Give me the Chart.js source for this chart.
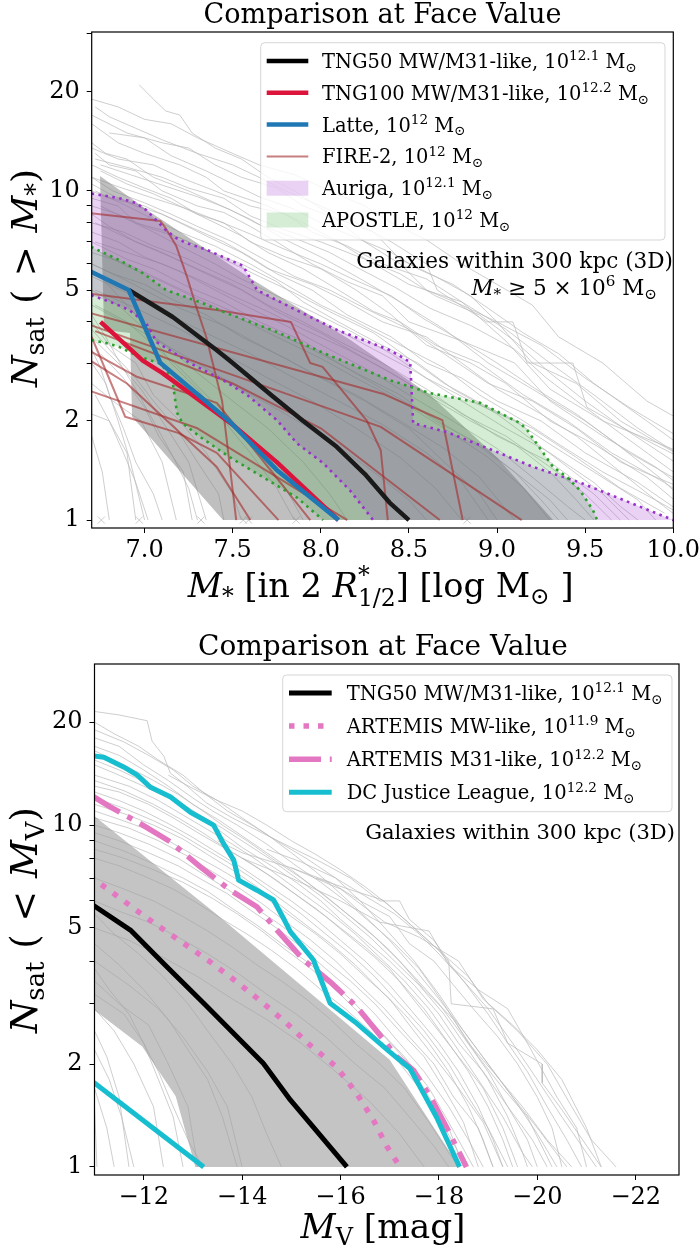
<!DOCTYPE html>
<html>
<head>
<meta charset="utf-8">
<script src="https://cdn.jsdelivr.net/npm/chart.js@4.4.0/dist/chart.umd.min.js"></script>
<style>
  body { margin: 0; background: #fff; }
  canvas { position: absolute; left: 0; }
</style>
</head>
<body>
<canvas id="top" width="700" height="620" style="top:0"></canvas>
<canvas id="bot" width="700" height="631" style="top:620px"></canvas>
<script>
// ---------- top panel: N_sat(>M*) vs log M* ----------
const XTICKS_TOP = [7.0, 7.5, 8.0, 8.5, 9.0, 9.5, 10.0]
const YTICKS = [1, 2, 3, 4, 5, 6, 7, 8, 9, 10, 20, 30]
const YLABELS = [1, 2, 5, 10, 20]

const TNG50_MSTAR = [[6.91,5.0],[7.16,4.14],[7.41,3.28],[7.5,3.0],[7.73,2.37],[7.9,2.0],[8.09,1.67],[8.25,1.38],[8.39,1.13],[8.5,1.0]]
const TNG100_MSTAR = [[6.75,4.0],[6.99,3.05],[7.1,2.8],[7.5,1.95],[7.75,1.5],[8.1,1.0]]
const LATTE_MSTAR = [[6.66,5.8],[6.91,5.0],[7.09,3.0],[7.48,2.0],[7.75,1.42],[8.1,1.0]]

const FIRE2_MSTAR = [
  [[6.66,8.6],[7.09,8.1],[7.12,7.7],[7.18,6.8],[7.24,5.5],[7.29,4.5],[7.35,3.6],[7.44,2.3],[7.52,1.0]],
  [[6.66,4.9],[7.41,4.35],[7.83,4.0],[7.94,3.0],[8.01,2.92],[8.26,2.01],[8.34,1.63],[8.38,1.0]],
  [[6.66,4.3],[8.36,2.41],[8.69,2.01],[8.805,1.0]],
  [[6.66,3.97],[8.34,1.92],[9.14,1.0]],
  [[6.66,3.33],[6.96,2.72],[7.41,2.27],[7.94,1.0]],
  [[6.66,3.13],[6.9,2.6],[7.41,1.45],[7.6,1.0]],
  [[6.7,3.6],[6.89,2.06],[7.19,1.84],[7.41,1.6],[7.76,1.0]],
  [[6.66,2.5],[7.3,1.9],[8.15,1.0]],
  [[6.72,3.75],[7.5,2.6],[8.0,1.9],[8.675,1.0]]
]

const AURIGA_HI = [[6.66,9.9],[6.855,9.51],[6.95,9.2],[7.008,8.76],[7.065,8.16],[7.12,7.61],[7.178,7.2],[7.235,6.95],[7.354,6.62],[7.559,5.92],[7.638,5.0],[7.825,4.44],[8.092,3.78],[8.393,3.28],[8.507,3.02],[8.524,1.97],[8.717,1.85],[9.0,1.61],[9.205,1.45],[9.471,1.30],[10.0,1.0]]
const AURIGA_LO = [[6.66,4.9],[6.82,4.57],[6.912,4.35],[7.008,3.97],[7.07,3.47],[7.258,3.0],[7.446,2.66],[7.582,2.40],[7.752,2.01],[7.865,1.71],[8.013,1.49],[8.166,1.23],[8.297,1.0]]
const APOSTLE_HI = [[6.66,6.9],[6.855,6.17],[6.989,5.63],[7.122,5.0],[7.33,4.56],[7.447,4.29],[7.75,3.73],[8.014,3.22],[8.393,2.66],[8.62,2.43],[8.904,2.27],[9.131,1.97],[9.17,1.88],[9.318,1.45],[9.397,1.35],[9.471,1.23],[9.545,1.07],[9.568,1.0]]
const APOSTLE_LO = [[6.66,3.55],[6.781,3.45],[6.855,3.36],[6.968,3.14],[7.082,3.0],[7.122,2.86],[7.16,2.61],[7.184,2.12],[7.216,1.97],[7.315,1.79],[7.485,1.55],[7.672,1.35],[7.865,1.17],[8.013,1.0]]
const TNG50_BAND_HI = [[6.747,11.1],[7.031,8.63],[7.598,5.44],[8.166,3.53],[8.62,2.40],[9.0,1.55],[9.318,1.0]]
const TNG50_BAND_LO = [[6.747,11.1],[6.77,3.78],[6.917,3.70],[6.929,2.06],[7.445,1.0]]

const SINGLE_SAT_MSTAR = [6.755, 6.97, 7.32, 7.56, 7.59, 7.86, 8.83]

const GRAY_MSTAR = [
  [[6.97,21],[7.05,19],[7.12,17.5],[7.2,17],[7.27,15],[7.4,13.5],[7.55,12.5],[7.7,11],[7.85,10],[8.05,8.5],[8.25,7],[8.45,6],[8.6,5],[8.8,4.5],[9.0,4],[9.2,3],[9.45,2.6],[9.7,2],[10.1,1.5]],
  [[6.72,18],[6.8,16.8],[6.95,15.5],[7.1,14.3],[7.3,13],[7.5,12],[7.65,11],[7.8,10],[8.0,9],[8.2,8],[8.4,7],[8.6,6],[8.66,5],[8.94,4],[9.09,4],[9.17,3],[9.43,3],[9.51,2.2],[9.8,1.8],[10.2,1.4]],
  [[6.7,16],[6.85,14],[7.0,13],[7.2,12],[7.35,11],[7.45,10],[7.7,9],[7.9,8],[8.1,7],[8.3,6],[8.5,5.2],[8.8,4.6],[9.05,3.5],[9.3,2.5],[9.6,2],[10.05,1.6]],
  [[6.7,14],[6.78,13],[6.9,12.5],[7.05,11],[7.25,10],[7.4,9.2],[7.6,8.2],[7.8,7.1],[8.0,6.3],[8.2,5.5],[8.45,4.6],[8.7,3.8],[8.95,3],[9.2,2.5],[9.5,2],[9.75,1.6],[10.05,1.3]],
  [[6.72,13],[6.8,12],[6.95,11.5],[7.1,10],[7.3,9],[7.45,8.6],[7.6,7.8],[7.75,7],[7.95,6],[8.15,5.3],[8.35,4.8],[8.5,4],[8.8,3.5],[9.1,3],[9.3,2.3],[9.6,1.8],[9.9,1.45],[10.1,1.2]],
  [[6.7,12],[6.85,11],[7.0,10.2],[7.15,9.5],[7.3,8.5],[7.45,8],[7.6,7],[7.8,6.3],[8.0,5.8],[8.2,5],[8.4,4.2],[8.6,3.4],[8.85,3],[9.05,2.6],[9.3,2],[9.55,1.7],[9.85,1.35],[10.05,1.1]],
  [[6.75,11.5],[6.9,10.5],[7.05,9.8],[7.2,9],[7.4,8],[7.55,7.3],[7.7,6.5],[7.9,5.8],[8.1,5],[8.3,4.3],[8.45,4],[8.65,3.4],[8.9,3],[9.15,2.4],[9.4,2],[9.65,1.6],[9.95,1.3],[10.1,1.15]],
  [[6.7,11],[6.82,10],[7.0,9.2],[7.15,8.5],[7.3,7.8],[7.5,7],[7.7,6.1],[7.85,5.5],[8.05,5],[8.25,4.4],[8.5,3.8],[8.7,3.2],[8.95,2.6],[9.2,2.3],[9.45,1.9],[9.7,1.5],[10.05,1.25]],
  [[6.7,10.5],[6.8,9.8],[6.95,9],[7.1,8.5],[7.3,7.6],[7.45,7],[7.6,6.3],[7.75,5.6],[7.95,5],[8.15,4.2],[8.4,3.6],[8.6,3],[8.8,2.7],[9.0,2.3],[9.25,2],[9.5,1.6],[9.8,1.3],[10.05,1.05]],
  [[6.72,10],[6.9,9],[7.05,8.2],[7.2,7.5],[7.4,6.8],[7.6,6],[7.8,5.2],[8.0,4.5],[8.2,4],[8.45,3.4],[8.7,2.9],[8.9,2.4],[9.15,2],[9.35,1.7],[9.6,1.4],[9.9,1.15],[10.1,1.0]],
  [[6.7,9.5],[6.85,9],[6.95,8],[7.1,7.6],[7.25,7],[7.45,6.2],[7.65,5.5],[7.85,4.9],[8.05,4.3],[8.3,3.7],[8.5,3.1],[8.7,2.6],[8.95,2.2],[9.2,1.9],[9.45,1.55],[9.7,1.25],[9.95,1.05]],
  [[6.75,9],[6.9,8.2],[7.05,7.5],[7.2,6.8],[7.4,6],[7.55,5.4],[7.75,4.8],[7.95,4.3],[8.15,3.8],[8.4,3.2],[8.6,2.7],[8.85,2.3],[9.1,2],[9.3,1.7],[9.55,1.4],[9.8,1.15],[9.9,1.0]],
  [[6.7,8.5],[6.8,7.8],[6.95,7],[7.15,6.3],[7.35,5.6],[7.55,5],[7.75,4.3],[8.0,3.7],[8.25,3.1],[8.5,2.6],[8.75,2.2],[9.0,1.8],[9.3,1.5],[9.55,1.2],[9.7,1.0]],
  [[6.72,8],[6.9,7.2],[7.1,6.5],[7.3,5.8],[7.5,5.2],[7.7,4.5],[7.9,4],[8.1,3.5],[8.35,3],[8.6,2.5],[8.8,2.1],[9.05,1.8],[9.3,1.45],[9.5,1.2],[9.65,1.0]],
  [[6.7,7.5],[6.85,7],[7.0,6.3],[7.2,5.7],[7.4,5],[7.6,4.4],[7.8,3.9],[8.05,3.3],[8.3,2.8],[8.5,2.4],[8.75,2],[9.0,1.65],[9.2,1.35],[9.4,1.1],[9.5,1.0]],
  [[6.7,7],[6.9,6.2],[7.05,5.8],[7.25,5.1],[7.45,4.6],[7.65,4],[7.9,3.5],[8.1,3],[8.35,2.5],[8.6,2.1],[8.85,1.75],[9.1,1.4],[9.25,1.15],[9.35,1.0]],
  [[6.75,6.5],[6.9,5.9],[7.1,5.3],[7.3,4.7],[7.5,4.2],[7.75,3.6],[8.0,3.1],[8.2,2.7],[8.45,2.3],[8.7,1.9],[8.95,1.55],[9.15,1.25],[9.3,1.0]],
  [[6.7,6],[6.85,5.5],[7.0,5],[7.2,4.4],[7.45,3.9],[7.7,3.3],[7.95,2.8],[8.2,2.4],[8.45,2],[8.7,1.65],[8.9,1.35],[9.1,1.0]],
  [[6.7,5.5],[6.9,4.9],[7.1,4.3],[7.35,3.7],[7.6,3.2],[7.85,2.7],[8.1,2.3],[8.35,1.95],[8.6,1.6],[8.8,1.3],[8.95,1.0]],
  [[6.72,5],[6.95,4.4],[7.2,3.8],[7.45,3.2],[7.7,2.7],[7.95,2.3],[8.2,1.9],[8.45,1.55],[8.65,1.25],[8.8,1.0]],
  [[6.7,2.1],[6.8,2.0],[6.9,1.6],[6.95,1.0]],
  [[6.7,3.0],[6.78,2.6],[6.85,2.0],[6.92,1.5],[7.0,1.0]],
  [[6.7,2.6],[6.82,2.3],[6.98,2.0],[7.1,1.5],[7.18,1.0]],
  [[6.72,3.5],[6.85,3.0],[6.98,2.5],[7.1,2.0],[7.25,1.5],[7.35,1.0]],
  [[6.7,4.0],[6.8,3.4],[6.95,3.0],[7.05,2.4],[7.2,2.0],[7.35,1.6],[7.5,1.2],[7.55,1.0]],
  [[6.72,4.5],[6.9,4.0],[7.05,3.4],[7.2,2.9],[7.35,2.4],[7.5,2.0],[7.65,1.6],[7.8,1.25],[7.9,1.0]],
  [[6.7,1.8],[6.76,1.4],[6.8,1.0]],
  [[6.75,3.2],[6.88,2.7],[7.0,2.2],[7.08,1.8],[7.22,1.4],[7.27,1.0]],
  [[6.7,5],[6.85,4.5],[7.0,3.8],[7.15,3.3],[7.3,2.8],[7.5,2.3],[7.7,1.9],[7.9,1.5],[8.05,1.2],[8.15,1.0]],
  [[6.7,3.8],[6.8,3.3],[6.95,2.7],[7.05,2.3],[7.18,1.9],[7.3,1.5],[7.42,1.2],[7.45,1.0]],
  [[6.7,17],[6.9,15],[7.1,14],[7.25,13.5],[7.4,12],[7.55,11],[7.75,10.2],[7.9,9],[8.1,8.2],[8.3,7.5],[8.45,6.2],[8.65,5.5],[8.85,4.8],[9.0,4.0],[9.25,3.4],[9.5,2.7],[9.75,2.2],[10.1,1.7]],
  [[6.8,15],[7.0,14.5],[7.15,12.8],[7.35,11.5],[7.5,10.5],[7.65,9.6],[7.85,8.8],[8.0,8],[8.2,7.2],[8.4,6.5],[8.55,5.8],[8.75,5.2],[8.95,4.4],[9.15,3.7],[9.35,3.2],[9.55,2.6],[9.85,2.0],[10.1,1.6]],
  [[6.7,13.5],[6.85,12.5],[7.05,12],[7.2,11],[7.4,10],[7.6,9],[7.8,8.5],[7.95,7.5],[8.15,6.8],[8.35,6],[8.6,5.4],[8.8,4.6],[9.05,3.8],[9.3,3.0],[9.55,2.4],[9.8,1.9],[10.1,1.5]],
  [[6.72,12.5],[6.9,11.8],[7.1,11],[7.25,10.2],[7.45,9.5],[7.6,8.4],[7.8,7.6],[8.0,7],[8.25,6.2],[8.45,5.6],[8.65,4.8],[8.9,4.2],[9.1,3.5],[9.3,2.8],[9.5,2.3],[9.75,1.85],[10.05,1.45]],
  [[6.7,10],[6.8,9.5],[7.0,9],[7.2,8],[7.35,7.3],[7.55,6.5],[7.7,5.8],[7.95,5.2],[8.15,4.6],[8.35,4],[8.6,3.6],[8.8,3],[9.0,2.5],[9.25,2.1],[9.45,1.8],[9.7,1.4],[9.9,1.15],[10.05,1.0]],
  [[6.7,9],[6.85,8.5],[7.0,7.8],[7.2,7.2],[7.35,6.6],[7.55,6],[7.75,5.3],[7.9,4.6],[8.1,4.0],[8.3,3.5],[8.55,3.0],[8.75,2.5],[9.0,2.1],[9.2,1.75],[9.4,1.45],[9.6,1.2],[9.75,1.0]],
  [[6.7,8],[6.88,7.5],[7.05,6.8],[7.25,6.2],[7.45,5.5],[7.65,4.9],[7.85,4.4],[8.05,3.9],[8.3,3.3],[8.55,2.8],[8.8,2.3],[9.05,1.9],[9.3,1.6],[9.55,1.3],[9.7,1.1],[9.8,1.0]],
  [[6.72,7],[6.9,6.5],[7.1,6],[7.3,5.4],[7.5,4.8],[7.7,4.3],[7.9,3.8],[8.15,3.3],[8.4,2.8],[8.6,2.4],[8.85,2.0],[9.1,1.7],[9.3,1.4],[9.45,1.15],[9.55,1.0]],
  [[6.7,6.5],[6.9,6.0],[7.05,5.5],[7.25,4.9],[7.5,4.3],[7.7,3.8],[7.95,3.3],[8.2,2.8],[8.45,2.4],[8.65,2.0],[8.9,1.7],[9.1,1.4],[9.3,1.15],[9.4,1.0]],
  [[6.7,19],[6.85,18],[7.0,16.5],[7.15,16],[7.3,14.5],[7.5,13],[7.65,12],[7.85,11.2],[8.05,10],[8.25,9],[8.4,8],[8.6,7.1],[8.8,6],[9.0,5.2],[9.2,4.5],[9.35,3.6],[9.6,3.0],[9.85,2.3],[10.2,1.8]],
  [[6.75,12],[6.92,11.2],[7.08,10.5],[7.3,9.6],[7.48,8.8],[7.65,7.9],[7.85,7.2],[8.05,6.5],[8.22,5.8],[8.42,5.1],[8.62,4.4],[8.85,3.9],[9.1,3.3],[9.28,2.7],[9.5,2.2],[9.72,1.8],[10.0,1.4],[10.2,1.2]],
  [[6.7,11],[6.85,10.3],[7.05,9.5],[7.22,8.9],[7.42,8.1],[7.6,7.4],[7.78,6.7],[8.0,6.0],[8.18,5.4],[8.4,4.8],[8.58,4.1],[8.8,3.5],[9.0,3.0],[9.22,2.5],[9.45,2.1],[9.68,1.7],[9.92,1.35],[10.1,1.1]],
  [[6.7,4.5],[6.88,4.0],[7.08,3.5],[7.3,3.0],[7.55,2.5],[7.8,2.1],[8.05,1.75],[8.3,1.4],[8.5,1.15],[8.6,1.0]],
  [[6.7,6],[6.82,5.6],[7.0,5.2],[7.15,4.7],[7.35,4.2],[7.55,3.6],[7.8,3.1],[8.0,2.7],[8.25,2.3],[8.5,1.9],[8.7,1.5],[8.9,1.2],[9.0,1.0]],
  [[6.72,2.4],[6.8,2.0],[6.88,1.6],[6.95,1.3],[7.02,1.0]],
  [[6.7,4.2],[6.78,3.6],[6.86,3.0],[6.95,2.5],[7.05,2.0],[7.15,1.6],[7.25,1.25],[7.3,1.0]],
  [[6.7,3.3],[6.75,2.9],[6.8,2.4],[6.88,1.9],[6.95,1.5],[7.05,1.2],[7.1,1.0]],
  [[6.75,5.5],[6.85,4.8],[6.95,4.2],[7.05,3.6],[7.15,3.0],[7.3,2.5],[7.45,2.0],[7.6,1.6],[7.75,1.25],[7.85,1.0]]
]

// ---------- bottom panel: N_sat(<M_V) vs M_V ----------
const XTICKS_MV = [-12, -14, -16, -18, -20, -22]

const TNG50_MV = [[-10.85,6.0],[-11.02,5.77],[-11.73,4.93],[-12.47,3.85],[-13.22,3.01],[-14.43,2.01],[-14.98,1.57],[-16.13,1.0]]
const ARTEMIS_MW = [[-10.9,7.1],[-11.79,5.72],[-12.27,5.1],[-12.81,4.51],[-13.35,3.98],[-13.89,3.48],[-14.43,3.01],[-14.91,2.63],[-15.38,2.27],[-15.92,1.96],[-16.33,1.64],[-16.67,1.37],[-16.94,1.15],[-17.21,1.0]]
const ARTEMIS_M31 = [[-10.9,12.3],[-11.32,11.31],[-11.93,10.1],[-12.54,8.94],[-13.15,7.55],[-13.76,6.45],[-14.30,5.77],[-14.71,4.93],[-15.25,4.03],[-15.79,3.48],[-16.33,2.94],[-16.80,2.43],[-17.14,2.10],[-17.48,1.92],[-17.82,1.61],[-18.15,1.31],[-18.56,1.0]]
const DCJL_A = [[-10.9,16.0],[-11.19,15.8],[-11.59,14.8],[-11.87,14.0],[-12.14,12.9],[-12.54,12.1],[-12.95,10.9],[-13.42,10.0],[-13.62,8.84],[-13.83,7.9],[-13.93,6.9],[-14.30,6.45],[-14.64,6.04],[-14.84,5.34],[-14.98,4.88],[-15.45,4.03],[-15.58,3.6],[-15.79,3.01],[-16.33,2.63],[-17.0,2.17],[-17.41,1.94],[-17.61,1.72],[-17.95,1.40],[-18.42,1.0]]
const DCJL_B = [[-10.5,2.0],[-13.22,1.0]]

const MV_BAND_HI = [[-10.9,10.9],[-13.45,5.53],[-17.0,2.06],[-18.42,1.0]]
const MV_BAND_LO = [[-10.9,2.95],[-11.97,2.25],[-12.65,1.61],[-13.05,1.0]]

const GRAY_MV = [
  [[-11,21.5],[-11.5,21],[-12.07,20.2],[-12.17,17.6],[-12.41,15.9],[-12.54,14.2],[-12.88,13],[-13.28,11.6],[-13.8,10.5],[-14.4,9.5],[-15.0,8.6],[-15.6,7.8],[-16.2,7],[-16.8,6.0],[-17.2,6.0],[-17.4,5.3],[-17.9,4.6],[-18.2,4.0],[-18.25,3.0],[-19.1,2.9],[-19.4,2.3],[-20.1,2.0],[-20.1,1.76],[-20.5,1.47],[-21.3,1.0]],
  [[-11,20],[-11.4,18.5],[-11.9,17],[-12.3,15.5],[-12.8,14],[-13.2,12.5],[-13.7,11],[-14.2,10],[-14.7,9],[-15.3,8],[-15.9,7],[-16.4,6],[-16.9,5],[-17.5,4],[-18.0,3.2],[-18.5,2.5],[-19.0,2],[-19.5,1.6],[-20.0,1.3],[-20.6,1.0]],
  [[-11,18],[-11.5,17],[-12,15],[-12.5,13.5],[-13,12],[-13.4,11],[-13.9,10],[-14.5,8.8],[-15.1,7.6],[-15.6,6.8],[-16.1,6],[-16.6,5.2],[-17.1,4.5],[-17.6,3.8],[-18.1,3],[-18.6,2.3],[-19.1,1.9],[-19.7,1.5],[-20.2,1.2],[-20.7,1.0]],
  [[-11,16.5],[-11.6,15],[-12.2,13.5],[-12.7,12.3],[-13.2,11],[-13.6,10],[-14.1,9],[-14.6,8],[-15.2,7],[-15.7,6.2],[-16.2,5.4],[-16.7,4.7],[-17.2,4],[-17.7,3.3],[-18.3,2.7],[-18.8,2.1],[-19.3,1.7],[-19.8,1.4],[-20.3,1.0]],
  [[-11,15],[-11.4,14.2],[-12,13],[-12.6,11.8],[-13.1,10.6],[-13.6,9.5],[-14.0,8.6],[-14.6,7.6],[-15.1,6.8],[-15.6,6],[-16.0,5.3],[-16.5,4.6],[-17.0,4],[-17.5,3.4],[-18.0,2.8],[-18.4,2.3],[-18.9,1.9],[-19.4,1.5],[-19.9,1.2],[-20.2,1.0]],
  [[-11,14],[-11.7,13],[-12.3,11.8],[-12.8,10.7],[-13.3,9.7],[-13.8,8.8],[-14.3,7.9],[-14.8,7],[-15.3,6.2],[-15.8,5.5],[-16.3,4.8],[-16.8,4.1],[-17.3,3.5],[-17.8,2.9],[-18.3,2.3],[-18.8,1.8],[-19.3,1.4],[-19.7,1.1],[-19.9,1.0]],
  [[-11,13],[-11.5,12.5],[-12.1,11.5],[-12.6,10.5],[-13.1,9.5],[-13.5,8.8],[-14.0,8],[-14.5,7.2],[-15.0,6.4],[-15.5,5.7],[-16.0,5],[-16.5,4.4],[-17.0,3.8],[-17.4,3.2],[-17.9,2.6],[-18.4,2.1],[-18.9,1.7],[-19.3,1.3],[-19.6,1.0]],
  [[-11,12],[-11.6,11.2],[-12.2,10.3],[-12.7,9.5],[-13.2,8.6],[-13.7,7.8],[-14.2,7],[-14.7,6.2],[-15.2,5.5],[-15.7,4.8],[-16.2,4.2],[-16.7,3.6],[-17.2,3],[-17.7,2.5],[-18.2,2],[-18.6,1.6],[-19.0,1.3],[-19.4,1.0]],
  [[-11,11],[-11.5,10.4],[-12.0,9.8],[-12.5,9],[-13.0,8.2],[-13.5,7.5],[-14.0,6.8],[-14.5,6.1],[-15.0,5.4],[-15.5,4.8],[-16.0,4.2],[-16.5,3.6],[-17.0,3.1],[-17.4,2.6],[-17.9,2.1],[-18.4,1.7],[-18.9,1.35],[-19.3,1.0]],
  [[-11,10.5],[-11.7,9.8],[-12.3,9],[-12.9,8.1],[-13.4,7.3],[-13.9,6.6],[-14.4,5.9],[-14.9,5.2],[-15.4,4.6],[-15.9,4],[-16.4,3.4],[-16.9,2.9],[-17.4,2.4],[-17.9,2],[-18.3,1.6],[-18.8,1.3],[-19.1,1.0]],
  [[-11,9.5],[-11.5,9],[-12.1,8.3],[-12.7,7.6],[-13.2,6.9],[-13.7,6.3],[-14.2,5.6],[-14.7,5],[-15.2,4.4],[-15.7,3.8],[-16.2,3.3],[-16.7,2.8],[-17.2,2.3],[-17.7,1.9],[-18.2,1.5],[-18.6,1.2],[-18.9,1.0]],
  [[-11,9],[-11.6,8.4],[-12.2,7.7],[-12.8,7],[-13.3,6.4],[-13.8,5.7],[-14.3,5.1],[-14.8,4.5],[-15.3,4],[-15.8,3.5],[-16.3,3],[-16.8,2.5],[-17.3,2.1],[-17.8,1.7],[-18.2,1.35],[-18.7,1.0]],
  [[-11,8],[-11.5,7.6],[-12.0,7.1],[-12.6,6.5],[-13.1,5.9],[-13.6,5.3],[-14.1,4.8],[-14.6,4.3],[-15.1,3.8],[-15.6,3.3],[-16.1,2.9],[-16.6,2.5],[-17.1,2.1],[-17.6,1.7],[-18.0,1.4],[-18.4,1.1],[-18.6,1.0]],
  [[-11,7],[-11.6,6.5],[-12.2,6],[-12.8,5.4],[-13.3,4.9],[-13.8,4.4],[-14.3,3.9],[-14.8,3.5],[-15.3,3.1],[-15.8,2.7],[-16.3,2.3],[-16.8,2],[-17.3,1.7],[-17.8,1.35],[-18.2,1.1],[-18.4,1.0]],
  [[-15.5,7],[-16.3,6.4],[-16.86,6.04],[-17.5,5],[-18.0,4.3],[-18.6,3.6],[-19.0,3.0],[-19.6,2.5],[-20.2,2],[-20.7,1.5],[-21.1,1.2],[-21.6,1.0]],
  [[-13.5,9],[-14,8.3],[-15,7.5],[-16,6.5],[-16.9,5.2],[-17.6,4.7],[-18.4,4],[-18.9,3.1],[-19.5,2.6],[-20.0,2.2],[-20.5,1.8],[-21.0,1.3],[-21.3,1.0]],
  [[-14,8],[-15,7],[-16,6],[-16.8,5.2],[-17.8,4.9],[-18.2,3.9],[-18.8,3.3],[-19.4,2.9],[-19.8,2.3],[-20.4,1.6],[-20.8,1.3],[-21.0,1.0]],
  [[-11,2.9],[-11.4,2.5],[-11.8,2.0],[-12.2,1.5],[-12.4,1.0]],
  [[-11,2.5],[-11.25,2.1],[-11.5,1.6],[-11.7,1.0]],
  [[-11,3.2],[-11.6,2.8],[-12.0,2.3],[-12.3,1.8],[-12.6,1.4],[-12.8,1.0]],
  [[-10.9,2.0],[-11.0,1.5],[-11.05,1.0]],
  [[-11,3.5],[-11.5,3.0],[-12.1,2.6],[-12.5,2.0],[-12.9,1.5],[-13.1,1.0]],
  [[-11,4],[-11.7,3.4],[-12.3,2.9],[-12.8,2.4],[-13.3,1.9],[-13.7,1.5],[-14.0,1.0]],
  [[-11,19],[-11.6,17.5],[-12.1,16],[-12.6,14.5],[-13.0,13],[-13.5,11.8],[-14.0,10.5],[-14.5,9.4],[-15.0,8.3],[-15.5,7.3],[-16.0,6.3],[-16.5,5.4],[-17.0,4.6],[-17.5,3.8],[-18.0,3.1],[-18.5,2.5],[-19.0,2.0],[-19.5,1.6],[-20.0,1.25],[-20.4,1.0]],
  [[-11,17],[-11.5,16],[-12.0,14.5],[-12.5,13],[-13.0,11.5],[-13.5,10.4],[-14.0,9.3],[-14.5,8.3],[-15.0,7.4],[-15.5,6.5],[-16.0,5.7],[-16.5,5.0],[-17.0,4.3],[-17.5,3.6],[-18.0,3.0],[-18.5,2.4],[-19.0,1.9],[-19.4,1.5],[-19.8,1.2],[-20.0,1.0]],
  [[-11,15.5],[-11.5,14.5],[-12.1,13.2],[-12.6,12],[-13.1,10.8],[-13.6,9.8],[-14.1,8.8],[-14.6,7.9],[-15.1,7.0],[-15.6,6.2],[-16.1,5.4],[-16.6,4.7],[-17.1,4.0],[-17.6,3.4],[-18.1,2.8],[-18.6,2.2],[-19.0,1.8],[-19.4,1.4],[-19.7,1.1],[-19.8,1.0]],
  [[-11,13.5],[-11.6,12.6],[-12.2,11.5],[-12.7,10.5],[-13.2,9.5],[-13.7,8.5],[-14.2,7.7],[-14.7,6.9],[-15.2,6.1],[-15.7,5.4],[-16.2,4.7],[-16.7,4.1],[-17.2,3.5],[-17.7,2.9],[-18.2,2.3],[-18.6,1.9],[-19.0,1.5],[-19.3,1.2],[-19.5,1.0]],
  [[-11,12.5],[-11.5,11.8],[-12.0,11],[-12.5,10.1],[-13.0,9.2],[-13.5,8.3],[-14.0,7.5],[-14.5,6.7],[-15.0,6.0],[-15.5,5.3],[-16.0,4.6],[-16.5,4.0],[-17.0,3.4],[-17.5,2.8],[-18.0,2.3],[-18.4,1.9],[-18.8,1.5],[-19.1,1.2],[-19.3,1.0]],
  [[-11,11.5],[-11.6,10.8],[-12.2,10],[-12.8,9.1],[-13.3,8.2],[-13.8,7.4],[-14.3,6.6],[-14.8,5.8],[-15.3,5.1],[-15.8,4.5],[-16.3,3.9],[-16.8,3.3],[-17.3,2.8],[-17.8,2.3],[-18.2,1.9],[-18.6,1.5],[-18.9,1.2],[-19.1,1.0]],
  [[-11,10],[-11.5,9.5],[-12.1,8.8],[-12.7,8],[-13.2,7.2],[-13.7,6.5],[-14.2,5.8],[-14.7,5.2],[-15.2,4.6],[-15.7,4.0],[-16.2,3.5],[-16.7,3.0],[-17.2,2.5],[-17.7,2.1],[-18.1,1.7],[-18.5,1.35],[-18.8,1.0]],
  [[-11,8.5],[-11.6,8],[-12.2,7.4],[-12.8,6.8],[-13.4,6.1],[-13.9,5.5],[-14.4,4.9],[-14.9,4.3],[-15.4,3.8],[-15.9,3.3],[-16.4,2.8],[-16.9,2.4],[-17.4,2.0],[-17.8,1.6],[-18.2,1.3],[-18.5,1.0]],
  [[-11,6],[-11.5,5.6],[-12.1,5.2],[-12.7,4.7],[-13.3,4.2],[-13.9,3.7],[-14.5,3.2],[-15.1,2.8],[-15.7,2.4],[-16.3,2.0],[-16.9,1.7],[-17.4,1.4],[-17.9,1.15],[-18.2,1.0]],
  [[-11,5],[-11.7,4.6],[-12.4,4.1],[-13.1,3.6],[-13.8,3.1],[-14.5,2.7],[-15.2,2.3],[-15.9,1.9],[-16.6,1.55],[-17.2,1.25],[-17.7,1.0]],
  [[-14.5,8.5],[-15.2,7.8],[-15.9,7],[-16.5,6.2],[-17.1,5.5],[-17.6,4.8],[-18.0,4.2],[-18.5,3.5],[-19.0,2.8],[-19.4,2.3],[-19.8,1.9],[-20.2,1.5],[-20.6,1.2],[-20.9,1.0]],
  [[-15,7.5],[-15.8,6.8],[-16.4,6],[-17.0,5.4],[-17.4,4.5],[-17.9,4.0],[-18.3,3.4],[-18.7,2.9],[-19.2,2.4],[-19.6,2.0],[-20.0,1.6],[-20.3,1.3],[-20.5,1.0]],
  [[-12.5,14],[-13,12.8],[-13.5,11.8],[-14.0,11],[-14.5,10],[-15.0,9],[-15.5,8.2],[-16.0,7.4],[-16.5,6.6],[-17.0,5.8],[-17.5,5.0],[-18.0,4.3],[-18.5,3.5],[-19.0,2.9],[-19.5,2.3],[-20.0,1.8],[-20.5,1.4],[-21.0,1.1],[-21.2,1.0]],
  [[-11,3.8],[-11.3,3.3],[-11.7,2.8],[-12.0,2.3],[-12.3,1.9],[-12.6,1.5],[-12.9,1.2],[-13.2,1.0]],
  [[-11,2.2],[-11.3,1.8],[-11.55,1.4],[-11.8,1.0]],
  [[-11,4.5],[-11.5,3.9],[-12.0,3.3],[-12.5,2.7],[-12.9,2.2],[-13.3,1.8],[-13.6,1.4],[-13.9,1.0]],
  [[-11,1.7],[-11.25,1.3],[-11.4,1.0]],
  [[-11,5.5],[-11.4,4.8],[-11.9,4.2],[-12.4,3.6],[-12.9,3.0],[-13.3,2.5],[-13.8,2.0],[-14.2,1.6],[-14.5,1.25],[-14.8,1.0]]
]

// ---------- helpers ----------
const FONT = '"DejaVu Serif", serif'
const GRAY_LINE = 'rgba(185,185,185,0.7)'
const pts = (arr) => arr.map(([x, y]) => ({ x, y }))

const lineDs = (data, color, width, order, extra = {}) => Object.assign({
  type: 'line', data: pts(data), borderColor: color, borderWidth: width,
  pointRadius: 0, pointHoverRadius: 0, fill: false, tension: 0, order,
  borderJoinStyle: 'round', borderCapStyle: 'butt',
}, extra)

const bandDs = (hi, lo, color, order) => ({
  type: 'line', data: pts(hi.concat(lo.slice().reverse())),
  borderWidth: 0, borderColor: 'rgba(0,0,0,0)', backgroundColor: color,
  fill: 'shape', pointRadius: 0, tension: 0, order,
})

function runWidth(ctx, r, size) {
  if (r.gap) return r.gap * size
  if (r.stack) {
    ctx.font = (size * 0.7) + 'px ' + FONT
    return Math.max(ctx.measureText(r.stack[0]).width, ctx.measureText(r.stack[1]).width)
  }
  const s = (r.sub || r.sup) ? size * 0.7 : size
  ctx.font = (r.it ? 'italic ' : '') + s + 'px ' + FONT
  return ctx.measureText(r.t).width
}
const richWidth = (ctx, runs, size) => runs.reduce((w, r) => w + runWidth(ctx, r, size), 0)

function drawRich(ctx, runs, x, y, size, align) {
  const w = richWidth(ctx, runs, size)
  let cx = align === 'center' ? x - w / 2 : align === 'right' ? x - w : x
  ctx.textAlign = 'left'
  ctx.textBaseline = 'alphabetic'
  ctx.fillStyle = '#000'
  for (const r of runs) {
    const rw = runWidth(ctx, r, size)
    if (r.stack) {
      ctx.fillText(r.stack[0], cx, y - size * 0.42)
      ctx.fillText(r.stack[1], cx, y + size * 0.26)
    } else if (!r.gap) {
      const dy = r.sub ? size * 0.2 : r.sup ? -size * 0.4 : 0
      ctx.fillText(r.t, cx, y + dy)
    }
    cx += rw
  }
}
const fitSize = (ctx, runs, width) => 100 * width / richWidth(ctx, runs, 100)

// spread the gap runs so that the label spans the given length at a fixed size
function spread(ctx, runs, size, length) {
  const base = richWidth(ctx, runs.filter((r) => !r.gap), size)
  const n = runs.filter((r) => r.gap).length
  const g = Math.max(0.1, (length - base) / n / size)
  return runs.map((r) => (r.gap ? { gap: g } : r))
}

function drawLegend(ctx, box, entries, widthRef) {
  const size = fitSize(ctx, entries[0].label, widthRef)
  ctx.save()
  ctx.fillStyle = 'rgba(255,255,255,0.8)'
  ctx.strokeStyle = 'rgba(204,204,204,0.8)'
  ctx.lineWidth = 1
  ctx.beginPath()
  ctx.roundRect(box.x0, box.y0, box.x1 - box.x0, box.y1 - box.y0, 4)
  ctx.fill()
  ctx.stroke()
  entries.forEach((e, i) => {
    const y = box.rows[i]
    if (e.patch) {
      ctx.fillStyle = e.patch
      ctx.fillRect(box.h0, y - 7.5, box.h1 - box.h0, 15)
    } else {
      ctx.strokeStyle = e.color
      ctx.lineWidth = e.width
      ctx.lineCap = 'butt'
      ctx.setLineDash(e.dash || [])
      ctx.beginPath()
      ctx.moveTo(box.h0, y)
      ctx.lineTo(box.h1, y)
      ctx.stroke()
      ctx.setLineDash([])
    }
    drawRich(ctx, e.label, box.tx, y + size * 0.36, size, 'left')
  })
  ctx.restore()
}

const MSUN = [{ t: ' M' }, { t: '\u2299', sub: true }]
const legendLabel = (name, exp) => [{ t: name + ', 10' }, { t: exp, sup: true }].concat(MSUN)

const TITLE = [{ t: 'Comparison at Face Value' }]
const GAL_TEXT = [{ t: 'Galaxies within 300 kpc (3D)' }]
const MCUT_TEXT = [{ t: 'M', it: true }, { t: '*', sub: true }, { t: ' \u2265 5 \u00d7 10' }, { t: '6', sup: true }].concat(MSUN)
const XLABEL_TOP = [{ t: 'M', it: true }, { t: '*', sub: true }, { t: ' [in 2 ' }, { t: 'R', it: true }, { stack: ['*', '1/2'] }, { t: '] [log M' }, { t: '\u2299', sub: true }, { t: ' ]' }]
const YLABEL_TOP = [{ t: 'N', it: true }, { t: 'sat', sub: true }, { gap: 1 }, { t: '(' }, { gap: 1 }, { t: '>' }, { gap: 1 }, { t: 'M', it: true }, { t: '*', sub: true }, { t: ')' }]
const XLABEL_BOT = [{ t: 'M', it: true }, { t: 'V', sub: true }, { t: ' [mag]' }]
const YLABEL_BOT = [{ t: 'N', it: true }, { t: 'sat', sub: true }, { gap: 1 }, { t: '(' }, { gap: 1 }, { t: '<' }, { gap: 1 }, { t: 'M', it: true }, { t: 'V', sub: true }, { t: ')' }]

const PINK = '#e377c2'
const CYAN = '#17becf'
const FIRE_COL = 'rgba(165,42,42,0.6)'
const PURPLE = '#9932cc'
const GREEN = '#2ca02c'

function axes(xOpts, yOpts, xh, yw) {
  const tickFont = { family: FONT, size: xOpts.fontSize }
  return {
    x: {
      type: 'linear', min: xOpts.min, max: xOpts.max, reverse: !!xOpts.reverse,
      afterBuildTicks: (s) => { s.ticks = xOpts.ticks.map((v) => ({ value: v })) },
      afterFit: (s) => { s.height = xh; s.paddingLeft = 0; s.paddingRight = 0 },
      ticks: { callback: xOpts.fmt, font: tickFont, color: '#000', padding: 3, maxRotation: 0, autoSkip: false },
      grid: { display: true, drawOnChartArea: false, drawTicks: true, tickLength: 5, tickColor: '#000', tickWidth: 1 },
      border: { display: false },
    },
    y: {
      type: 'logarithmic', min: yOpts.min, max: yOpts.max,
      afterBuildTicks: (s) => { s.ticks = YTICKS.filter((v) => v <= yOpts.max).map((v) => ({ value: v })) },
      afterFit: (s) => { s.width = yw; s.paddingTop = 0; s.paddingBottom = 0 },
      ticks: { callback: (v) => (YLABELS.includes(v) ? String(v) : ''), font: tickFont, color: '#000', padding: 7, autoSkip: false },
      grid: { display: true, drawOnChartArea: false, drawTicks: true, tickLength: 5, tickColor: '#000', tickWidth: 1 },
      border: { display: false },
    },
  }
}

function framePlugin(draw) {
  return {
    id: 'frameText',
    afterDraw(chart) {
      const { ctx, chartArea: a } = chart
      ctx.save()
      ctx.strokeStyle = '#000'
      ctx.lineWidth = 1.2
      ctx.strokeRect(a.left, a.top, a.right - a.left, a.bottom - a.top)
      ctx.restore()
      draw(ctx, a)
    },
  }
}

function drawYLabel(ctx, runs, x, y, size, length) {
  ctx.save()
  ctx.translate(x, y)
  ctx.rotate(-Math.PI / 2)
  drawRich(ctx, spread(ctx, runs, size, length), 0, 0, size, 'center')
  ctx.restore()
}

// ---------- top chart ----------
const topDatasets = [
  ...GRAY_MSTAR.map((l) => lineDs(l, GRAY_LINE, 1, 100)),
  { type: 'line', data: SINGLE_SAT_MSTAR.map((x) => ({ x, y: 1 })), showLine: false,
    pointStyle: 'crossRot', pointRadius: 5, pointBorderColor: 'rgba(190,190,190,0.8)', pointBorderWidth: 1,
    pointBackgroundColor: 'rgba(0,0,0,0)', order: 99 },
  bandDs(TNG50_BAND_HI, TNG50_BAND_LO, 'rgba(128,128,128,0.5)', 90),
  bandDs(AURIGA_HI, AURIGA_LO, 'rgba(153,50,204,0.22)', 80),
  bandDs(APOSTLE_HI, APOSTLE_LO, 'rgba(44,160,44,0.2)', 70),
  ...FIRE2_MSTAR.map((l) => lineDs(l, FIRE_COL, 2, 60)),
  lineDs(AURIGA_HI, PURPLE, 2.6, 50, { borderDash: [2.6, 4.4] }),
  lineDs(AURIGA_LO, PURPLE, 2.6, 50, { borderDash: [2.6, 4.4] }),
  lineDs(APOSTLE_HI, GREEN, 2.6, 49, { borderDash: [2.6, 4.4] }),
  lineDs(APOSTLE_LO, GREEN, 2.6, 49, { borderDash: [2.6, 4.4] }),
  lineDs(TNG50_MSTAR, '#1a1a1a', 4.5, 30),
  lineDs(TNG100_MSTAR, '#dc143c', 4.5, 20),
  lineDs(LATTE_MSTAR, '#1f77b4', 4.5, 10),
]

new Chart(document.getElementById('top'), {
  type: 'line',
  data: { datasets: topDatasets },
  options: {
    responsive: false, animation: false, events: [],
    layout: { padding: { top: 32, right: 26.7, left: 0, bottom: 0 } },
    plugins: { legend: { display: false }, tooltip: { enabled: false } },
    scales: axes(
      { min: 6.7, max: 10.0, ticks: XTICKS_TOP, fmt: (v) => v.toFixed(1), fontSize: 24 },
      { min: 0.946, max: 30.4 }, 92, 91.7),
  },
  plugins: [framePlugin((ctx) => {
    drawRich(ctx, TITLE, 382.5, 23, fitSize(ctx, TITLE, 358), 'center')
    drawRich(ctx, XLABEL_TOP, 380.6, 597, fitSize(ctx, XLABEL_TOP, 386), 'center')
    drawYLabel(ctx, YLABEL_TOP, 37, 278, 36, 218)
    const gs = fitSize(ctx, GAL_TEXT, 317)
    drawRich(ctx, GAL_TEXT, 673, 260 + gs * 0.36, gs, 'right')
    drawRich(ctx, MCUT_TEXT, 657, 287 + gs * 0.36, gs, 'right')
    drawLegend(ctx,
      { x0: 260.7, x1: 665, y0: 42.7, y1: 240, h0: 266.7, h1: 308.3, tx: 322,
        rows: [61, 92.8, 124.6, 156.4, 188.2, 220] },
      [
        { label: legendLabel('TNG50 MW/M31-like', '12.1'), color: '#000', width: 4.5 },
        { label: legendLabel('TNG100 MW/M31-like', '12.2'), color: '#dc143c', width: 4.5 },
        { label: legendLabel('Latte', '12'), color: '#1f77b4', width: 4.5 },
        { label: legendLabel('FIRE-2', '12'), color: FIRE_COL, width: 2 },
        { label: legendLabel('Auriga', '12.1'), patch: 'rgba(153,50,204,0.22)' },
        { label: legendLabel('APOSTLE', '12'), patch: 'rgba(44,160,44,0.2)' },
      ], 315)
  })],
})

// ---------- bottom chart ----------
const botDatasets = [
  ...GRAY_MV.map((l) => lineDs(l, GRAY_LINE, 1, 100)),
  bandDs(MV_BAND_HI, MV_BAND_LO, 'rgba(160,160,160,0.62)', 90),
  lineDs(TNG50_MV, '#000', 5, 30),
  lineDs(ARTEMIS_MW, PINK, 5.5, 25, { borderDash: [5.5, 9] }),
  lineDs(ARTEMIS_M31, PINK, 5.5, 20, { borderDash: [35, 8.8, 5.5, 8.8] }),
  lineDs(DCJL_A, CYAN, 5, 10),
  lineDs(DCJL_B, CYAN, 5, 10),
]

new Chart(document.getElementById('bot'), {
  type: 'line',
  data: { datasets: botDatasets },
  options: {
    responsive: false, animation: false, events: [],
    layout: { padding: { top: 44, right: 21, left: 0, bottom: 0 } },
    plugins: { legend: { display: false }, tooltip: { enabled: false } },
    scales: axes(
      { min: -22.88, max: -11, reverse: true, ticks: XTICKS_MV, fmt: (v) => '\u2212' + Math.abs(v), fontSize: 24 },
      { min: 0.947, max: 29.6 }, 76, 94.5),
  },
  plugins: [framePlugin((ctx) => {
    drawRich(ctx, TITLE, 383, 35, fitSize(ctx, TITLE, 370), 'center')
    drawRich(ctx, XLABEL_BOT, 383, 618, fitSize(ctx, XLABEL_BOT, 165), 'center')
    drawYLabel(ctx, YLABEL_BOT, 37, 300, 37, 226)
    const gs = fitSize(ctx, GAL_TEXT, 310)
    drawRich(ctx, GAL_TEXT, 675, 211.7 + gs * 0.36, gs, 'right')
    drawLegend(ctx,
      { x0: 282.7, x1: 672, y0: 55, y1: 191.7, h0: 289, h1: 331.7, tx: 346.7,
        rows: [73, 106, 139.3, 172.3] },
      [
        { label: legendLabel('TNG50 MW/M31-like', '12.1'), color: '#000', width: 5 },
        { label: legendLabel('ARTEMIS MW-like', '11.9'), color: PINK, width: 5.5, dash: [5.5, 9] },
        { label: legendLabel('ARTEMIS M31-like', '12.2'), color: PINK, width: 5.5, dash: [32, 8.8, 5.5, 8.8] },
        { label: legendLabel('DC Justice League', '12.2'), color: CYAN, width: 5 },
      ], 316)
  })],
})
</script>
</body>
</html>
